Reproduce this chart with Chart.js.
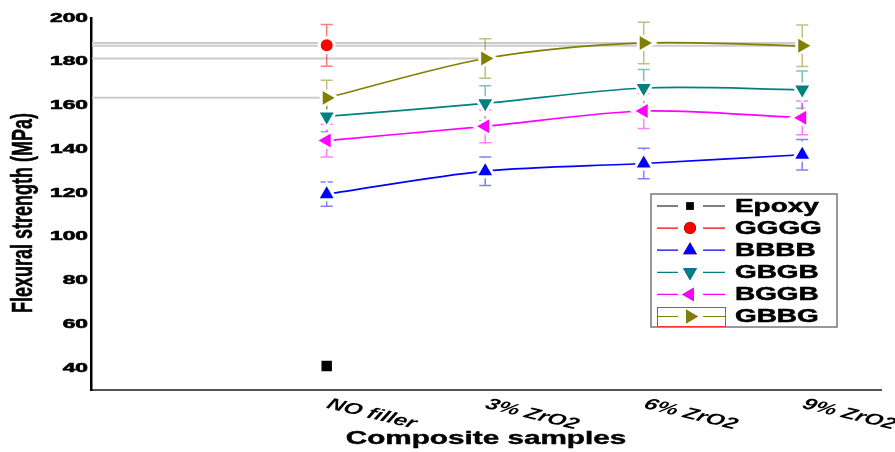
<!DOCTYPE html>
<html>
<head>
<meta charset="utf-8">
<script src="https://cdn.jsdelivr.net/npm/chart.js@4.4.0/dist/chart.umd.min.js"></script>
<style>
  html, body { margin: 0; padding: 0; background: #fff; }
  #wrap { width: 895px; height: 452px; }
</style>
</head>
<body>
<div id="wrap"><canvas id="chart" width="895" height="452"></canvas></div>
<script>
// categories and tick labels
const categories = ['NO filler', '3% ZrO2', '6% ZrO2', '9% ZrO2'];
const yTicks = [40, 60, 80, 100, 120, 140, 160, 180, 200];

// flexural strength (MPa) and error (+/-) per series
const epoxy = [41, null, null, null];
const epoxyErr = [0, 0, 0, 0];
const gggg = [187.5, null, null, null];
const ggggErr = [9.5, 0, 0, 0];
const bbbb = [119.5, 130, 133.5, 137.5];
const bbbbErr = [5.5, 6.5, 7, 7];
const gbgb = [155, 161, 168, 167.3];
const gbgbErr = [7, 8, 8.5, 8.5];
const bggb = [144, 150.5, 157.5, 154.4];
const bggbErr = [7.5, 7.5, 8, 7.7];
const gbbg = [163.5, 181.5, 188.6, 187.3];
const gbbgErr = [8, 9, 9.5, 9.5];

// grey drop lines from the y axis
const dropValues = [188.6, 187.3, 181.5, 163.5];
const dropEnds = [3, 3, 1, 0];

const FONT = '"Liberation Sans", Arial, sans-serif';

// r is the marker radius incl. the white halo that opens a gap in the lines
const SERIES = [
  { label: 'Epoxy', data: epoxy, err: epoxyErr, color: '#000000', style: 'rect', rot: 0, r: 9.5, line: false },
  { label: 'GGGG', data: gggg, err: ggggErr, color: '#ff0000', style: 'circle', rot: 0, r: 7.5, line: false },
  { label: 'BBBB', data: bbbb, err: bbbbErr, color: '#0000ff', style: 'triangle', rot: 0, r: 11, line: true },
  { label: 'GBGB', data: gbgb, err: gbgbErr, color: '#008080', style: 'triangle', rot: 180, r: 11, line: true },
  { label: 'BGGB', data: bggb, err: bggbErr, color: '#ff00ff', style: 'triangle', rot: -90, r: 11, line: true },
  { label: 'GBBG', data: gbbg, err: gbbgErr, color: '#808000', style: 'triangle', rot: 90, r: 11, line: true }
];

function toPoints(values) {
  return values.map((v, i) => (v == null ? null : { x: i, y: v })).filter(p => p);
}

function fade(hex, a) {
  const n = parseInt(hex.slice(1), 16);
  return `rgba(${(n >> 16) & 255}, ${(n >> 8) & 255}, ${n & 255}, ${a})`;
}

// text drawn with a horizontal stretch like the source figure
function stretchText(ctx, text, x, y, opts) {
  ctx.save();
  ctx.translate(x, y);
  ctx.scale(opts.sx || 1, 1);
  if (opts.angle) ctx.rotate(opts.angle);
  ctx.font = opts.font;
  ctx.fillStyle = opts.color || '#000';
  ctx.textAlign = opts.align || 'left';
  ctx.textBaseline = opts.baseline || 'middle';
  ctx.fillText(text, 0, 0);
  if (opts.heavy) {
    ctx.strokeStyle = opts.color || '#000';
    ctx.lineWidth = opts.heavy;
    ctx.strokeText(text, 0, 0);
  }
  ctx.restore();
}

const errorBars = {
  id: 'errorBars',
  beforeDatasetsDraw(chart) {
    const { ctx, chartArea } = chart;
    const xs = chart.scales.x, ys = chart.scales.y;
    ctx.save();
    ctx.strokeStyle = '#cccccc';
    ctx.lineWidth = 2;
    dropValues.forEach((v, i) => {
      const py = ys.getPixelForValue(v);
      ctx.beginPath();
      ctx.moveTo(chartArea.left + 1, py);
      ctx.lineTo(xs.getPixelForValue(dropEnds[i]) - 5, py);
      ctx.stroke();
    });
    ctx.lineWidth = 1.5;
    SERIES.forEach(s => {
      ctx.strokeStyle = fade(s.color, 0.5);
      s.data.forEach((v, i) => {
        if (v == null || !s.err[i]) return;
        const px = xs.getPixelForValue(i);
        const top = ys.getPixelForValue(v + s.err[i]);
        const bot = ys.getPixelForValue(v - s.err[i]);
        ctx.beginPath();
        ctx.moveTo(px, top); ctx.lineTo(px, bot);
        ctx.moveTo(px - 6, top); ctx.lineTo(px + 6, top);
        ctx.moveTo(px - 6, bot); ctx.lineTo(px + 6, bot);
        ctx.stroke();
      });
    });
    ctx.restore();
  }
};

const labels = {
  id: 'labels',
  afterDraw(chart) {
    const { ctx, chartArea } = chart;
    const xs = chart.scales.x, ys = chart.scales.y;

    // y tick labels
    ys.ticks.forEach(t => {
      stretchText(ctx, String(t.value), chartArea.left - 3, ys.getPixelForValue(t.value),
        { font: `bold 13px ${FONT}`, sx: 1.75, align: 'right', heavy: 0.6 });
    });
    // y title
    stretchText(ctx, 'Flexural strength (MPa)', 24, 213,
      { font: `bold 18px ${FONT}`, sx: 1.65, angle: -Math.PI / 2, align: 'center', heavy: 0.3 });

    // x tick labels, slanted down to the right
    categories.forEach((c, i) => {
      stretchText(ctx, c, xs.getPixelForValue(i) + 5, chartArea.bottom + 6,
        { font: `italic bold 16px ${FONT}`, sx: 1.5, angle: 19.6 * Math.PI / 180, baseline: 'top' });
    });
    // x title
    stretchText(ctx, 'Composite samples', (chartArea.left + chartArea.right) / 2, 439,
      { font: `bold 18px ${FONT}`, sx: 1.65, align: 'center', heavy: 0.4 });

    // legend
    const bx = 651, by = 194, bw = 186, bh = 133;
    ctx.save();
    ctx.fillStyle = '#fff';
    ctx.fillRect(bx, by, bw, bh);
    ctx.strokeStyle = '#777';
    ctx.lineWidth = 1.5;
    ctx.strokeRect(bx, by, bw, bh);
    SERIES.forEach((s, i) => {
      const ry = 206 + i * 22.1;
      ctx.strokeStyle = s.color;
      ctx.lineWidth = 1.2;
      ctx.beginPath();
      ctx.moveTo(657, ry); ctx.lineTo(678, ry);
      ctx.moveTo(703, ry); ctx.lineTo(725, ry);
      ctx.stroke();
      const rad = s.style === 'triangle' ? 8 : (s.style === 'rect' ? 5.5 : 6);
      Chart.helpers.drawPoint(ctx, { pointStyle: s.style, rotation: s.rot, radius: rad, borderWidth: 0 }, 690, ry);
      ctx.fillStyle = s.color;
      ctx.fill();
      stretchText(ctx, s.label, 735, ry + 1, { font: `bold 18px ${FONT}`, sx: 1.55, heavy: 0.5 });
    });
    ctx.strokeStyle = '#ff3030';
    ctx.lineWidth = 1;
    ctx.strokeRect(657.5, 307.5, 68, 19);
    ctx.restore();
  }
};

const datasets = SERIES.map(s => ({
  label: s.label,
  data: toPoints(s.data),
  borderColor: s.color,
  backgroundColor: s.color,
  borderWidth: 1.7,
  showLine: s.line,
  tension: 0.3,
  pointStyle: s.style,
  pointRotation: s.rot,
  pointRadius: s.r,
  pointBorderWidth: 3,
  pointBorderColor: '#ffffff',
  pointBackgroundColor: s.color
}));

new Chart(document.getElementById('chart'), {
  type: 'line',
  data: { datasets },
  options: {
    responsive: false,
    animation: false,
    layout: { padding: { top: 18, right: 13, left: 0, bottom: 0 } },
    plugins: { legend: { display: false }, tooltip: { enabled: false } },
    scales: {
      x: {
        type: 'linear',
        min: -1.487,
        max: 3.497,
        grid: { display: false },
        border: { display: true, color: '#555', width: 2 },
        ticks: { display: false },
        afterFit: scale => { scale.height = 62; }
      },
      y: {
        min: 30,
        max: 200,
        grid: { display: false },
        border: { display: true, color: '#000', width: 2.5 },
        ticks: { display: false },
        afterBuildTicks: scale => { scale.ticks = yTicks.map(v => ({ value: v })); },
        afterFit: scale => { scale.width = 91; }
      }
    }
  },
  plugins: [errorBars, labels]
});
</script>
</body>
</html>
